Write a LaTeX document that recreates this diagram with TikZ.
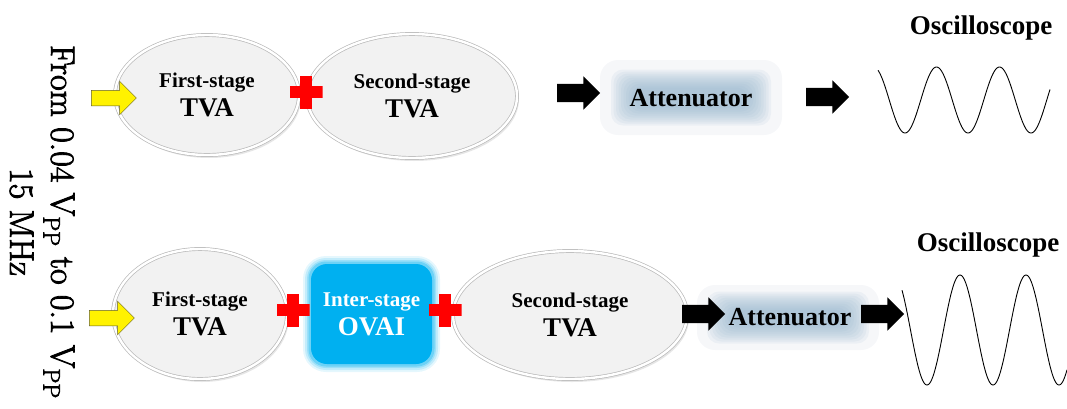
\documentclass[tikz,border=0pt]{standalone}
\usepackage{fontspec}
\newfontfamily\lab{Liberation Serif}
\newfontfamily\srcfont[FakeBold=2.5]{Latin Modern Roman}
\usetikzlibrary{shapes.geometric,shapes.arrows,shadows}
\definecolor{ellfill}{HTML}{F2F2F2}
\definecolor{cyanbox}{HTML}{00B0F0}
\definecolor{attglow}{HTML}{8FB2CC}
\definecolor{attouter}{HTML}{F6F7F9}
\newcommand\attglow[6]{%
  \fill[attouter, rounded corners=18] (#1-#3,#2-#4) rectangle (#1+#3,#2+#4);
  \foreach \i in {0,...,9}
    \fill[attglow, opacity=0.10, rounded corners=12] (#1-#5+\i*2.5,#2-#6+\i*2) rectangle (#1+#5-\i*2.5,#2+#6-\i*2);
}
\tikzset{
  ell/.style={ellipse, fill=ellfill, draw=gray!55, line width=0.7pt, double=white, double distance=2.4pt,
    align=center, inner sep=0, font=\lab\bfseries\fontsize{21}{28}\selectfont,
    drop shadow={shadow xshift=2pt, shadow yshift=-3pt, opacity=0.2}},
  big/.style={font=\lab\bfseries\fontsize{27}{30}\selectfont},
  plus/.style={minimum size=33, inner sep=0, path picture={
    \fill[red] (path picture bounding box.center) ++(-16.5,-6) rectangle ++(33,12);
    \fill[red] (path picture bounding box.center) ++(-6,-16.5) rectangle ++(12,33);}},
  yarrow/.style={single arrow, fill=yellow, draw=olive!60!black, line width=0.5pt,
    minimum height=45, inner xsep=0, inner ysep=7.5, single arrow head extend=9},
  barrow/.style={single arrow, fill=black, minimum height=43, inner xsep=0, inner ysep=9,
    single arrow head extend=7.5},
  lbl/.style={font=\lab\bfseries\fontsize{26}{30}\selectfont},
  wave/.style={line width=0.9pt, black},
}
\begin{document}
\begin{tikzpicture}[x=1pt,y=-1pt]
\useasboundingbox (0,0) rectangle (1067,408);

% rotated source label
\node[rotate=-90, align=center, font=\srcfont\fontsize{34}{41}\selectfont] (src) at (42,222)
  {From 0.04 V\textsubscript{PP} to 0.1 V\textsubscript{PP}\\15 MHz};

% ---------- top row ----------
\node[ell, minimum width=184, minimum height=120] (f1) at (207,95)
  {First-stage\\[1pt]{\fontsize{27}{30}\selectfont TVA}};
\node[ell, minimum width=210, minimum height=124] (s1) at (412,96)
  {Second-stage\\[1pt]{\fontsize{27}{30}\selectfont TVA}};
\node[plus] (p1) at (306,92) {};
\node[yarrow] (y1) at (110,98) {};
\attglow{691}{97.5}{91}{37.5}{80}{28}
\node[lbl] (a1) at (691,98) {Attenuator};
\node[barrow] (b1) at (574,93) {};
\node[barrow] (b2) at (823,97) {};
\draw[wave] plot[domain=878:1050, samples=200] (\x,{100+33*cos((\x-905)*5.7143)});
\node[big] (o1) at (981,28) {Oscilloscope};

% ---------- bottom row ----------
\node[ell, minimum width=174, minimum height=130] (f2) at (200,314)
  {First-stage\\[1pt]{\fontsize{27}{30}\selectfont TVA}};
\node[ell, minimum width=234, minimum height=128] (s2) at (570,315)
  {Second-stage\\[1pt]{\fontsize{27}{30}\selectfont TVA}};
\foreach \g/\o in {7/0.10,5/0.15,3/0.2,1.5/0.3}
  \fill[cyanbox, opacity=\o, rounded corners=16+\g] (310-\g,263-\g) rectangle (433+\g,365+\g);
\node[fill=cyanbox, rounded corners=16, minimum width=121, minimum height=100, inner sep=0,
  align=center, text=white, font=\lab\bfseries\fontsize{21}{28}\selectfont] (ov) at (371.5,314)
  {Inter-stage\\[1pt]{\fontsize{27}{30}\selectfont OVAI}};
\node[plus] (p2) at (293,310) {};
\node[plus] (p3) at (445,310) {};
\node[yarrow] (y2) at (108,318) {};
\attglow{788}{317.5}{91}{32.5}{81}{26}
\node[lbl] (a2) at (790,317) {Attenuator};
\node[barrow] (b3) at (699,314) {};
\node[barrow] (b4) at (878,314) {};
\draw[wave] plot[domain=902:1067, samples=200] (\x,{330+55*cos((\x-927)*5.4545)});
\node[big] (o2) at (988,245) {Oscilloscope};
\end{tikzpicture}
\end{document}
